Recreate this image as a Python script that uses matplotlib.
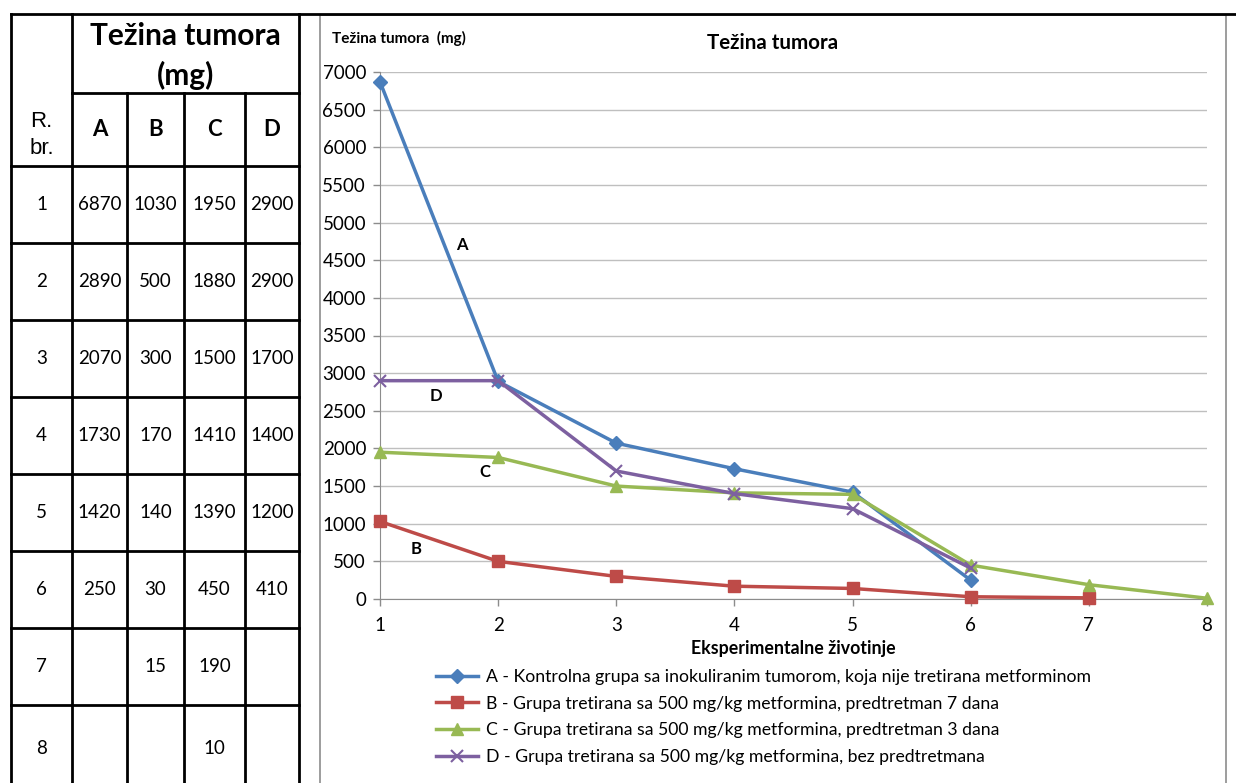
import numpy as np
import matplotlib.pyplot as plt
from matplotlib.lines import Line2D
from matplotlib.patches import Rectangle

plt.rcParams['font.family'] = ['Lato', 'DejaVu Sans']

# tumour weights (mg) per animal
animals = [1, 2, 3, 4, 5, 6, 7, 8]
group_a = [6870, 2890, 2070, 1730, 1420, 250]
group_b = [1030, 500, 300, 170, 140, 30, 15]
group_c = [1950, 1880, 1500, 1410, 1390, 450, 190, 10]
group_d = [2900, 2900, 1700, 1400, 1200, 410]

labels = [
    'A - Kontrolna grupa sa inokuliranim tumorom, koja nije tretirana metforminom',
    'B - Grupa tretirana sa 500 mg/kg metformina, predtretman 7 dana',
    'C - Grupa tretirana sa 500 mg/kg metformina, predtretman 3 dana',
    'D - Grupa tretirana sa 500 mg/kg metformina, bez predtretmana',
]
colors = ['#4A7EBB', '#BE4B48', '#98B954', '#7D60A0']
markers = ['D', 's', '^', 'x']
msizes = [7, 8, 9, 8]

# letter tags next to the curves: (x, y)
tags = {'A': (1.69, 4700), 'D': (1.47, 2700), 'C': (1.89, 1690), 'B': (1.31, 660)}

W, H = 1236, 783
fig = plt.figure(figsize=(W / 100, H / 100), dpi=100)

# overlay in pixel units for the table and panel frame
bg = fig.add_axes([0, 0, 1, 1])
bg.set_xlim(0, W)
bg.set_ylim(H, 0)
bg.axis('off')

# chart panel frame
bg.add_patch(Rectangle((320, 15), 906, 775, fill=False, ec='#8c8c8c', lw=1.2))
bg.plot([11, W], [14, 14], color='black', lw=2)

# table grid
col_x = [11, 72, 127, 184, 245, 299]
row_y = [14, 93, 166, 243, 320, 397, 474, 551, 628, 705, 790]
lw = 2
for x in [col_x[0], col_x[1], col_x[-1]]:
    bg.plot([x, x], [row_y[0], H], color='black', lw=lw)
for x in col_x[2:-1]:
    bg.plot([x, x], [row_y[1], H], color='black', lw=lw)
bg.plot([col_x[1], col_x[-1]], [row_y[1], row_y[1]], color='black', lw=lw)
for y in row_y[2:-1]:
    bg.plot([col_x[0], col_x[-1]], [y, y], color='black', lw=lw)

bg.text((col_x[1] + col_x[-1]) / 2, 56, 'Težina tumora\n(mg)', ha='center', va='center',
        fontsize=21.5, fontweight='bold', linespacing=1.45)
bg.text((col_x[0] + col_x[1]) / 2, 135, 'R.\nbr.', ha='center', va='center',
        fontsize=16, family='Liberation Sans', linespacing=1.4)
for i, g in enumerate(['A', 'B', 'C', 'D']):
    bg.text((col_x[i + 1] + col_x[i + 2]) / 2, 130, g, ha='center', va='center',
            fontsize=16, fontweight='bold')

cols = [group_a, group_b, group_c, group_d]
for r, n in enumerate(animals):
    yc = (row_y[r + 2] + row_y[r + 3]) / 2 if r < 7 else 748
    bg.text((col_x[0] + col_x[1]) / 2, yc, str(n), ha='center', va='center', fontsize=13.5)
    for c, vals in enumerate(cols):
        if r < len(vals):
            bg.text((col_x[c + 1] + col_x[c + 2]) / 2, yc, str(vals[r]),
                    ha='center', va='center', fontsize=13.5)

# line chart
ax = fig.add_axes([380 / W, 1 - 599 / H, 827 / W, 527 / H])
series = [group_a, group_b, group_c, group_d]
handles = []
for vals, col, m, ms in zip(series, colors, markers, msizes):
    xs = animals[:len(vals)]
    mew = 1.5 if m == 'x' else 1
    ax.plot(xs, vals, color=col, lw=2.5, marker=m, markersize=ms, mew=mew, zorder=3,
            clip_on=False)
    handles.append(Line2D([], [], color=col, lw=2.5, marker=m, markersize=ms, mew=mew))

for t, (tx, ty) in tags.items():
    ax.text(tx, ty, t, fontsize=12, fontweight='bold', ha='center', va='center')

ax.set_xlim(1, 8)
ax.set_ylim(0, 7000)
ax.set_yticks(np.arange(0, 7001, 500))
ax.set_xticks(animals)
ax.grid(axis='y', color='#bfbfbf', lw=1)
ax.set_axisbelow(True)
for s in ['top', 'right']:
    ax.spines[s].set_visible(False)
for s in ['left', 'bottom']:
    ax.spines[s].set_color('#8c8c8c')
ax.tick_params(axis='both', colors='#8c8c8c', labelcolor='black', labelsize=13.5,
               length=5, width=1)
ax.tick_params(axis='y', pad=5)
ax.tick_params(axis='x', pad=8)
ax.set_xlabel('Eksperimentalne životinje', fontsize=12.8, fontweight='bold', labelpad=4)
fig.text(773 / W, 1 - 43 / H, 'Težina tumora', fontsize=14.8, fontweight='bold',
         ha='center', va='center')
fig.text(332 / W, 1 - 38 / H, 'Težina tumora  (mg)', fontsize=11, fontweight='bold',
         va='center')

fig.legend(handles, labels, loc='upper left', bbox_to_anchor=(436 / W, 1 - 669 / H),
           frameon=False, fontsize=12.7, handlelength=2.4, handletextpad=0.45,
           labelspacing=0.6, borderaxespad=0, borderpad=0)

fig.savefig('out.png', dpi=100)
